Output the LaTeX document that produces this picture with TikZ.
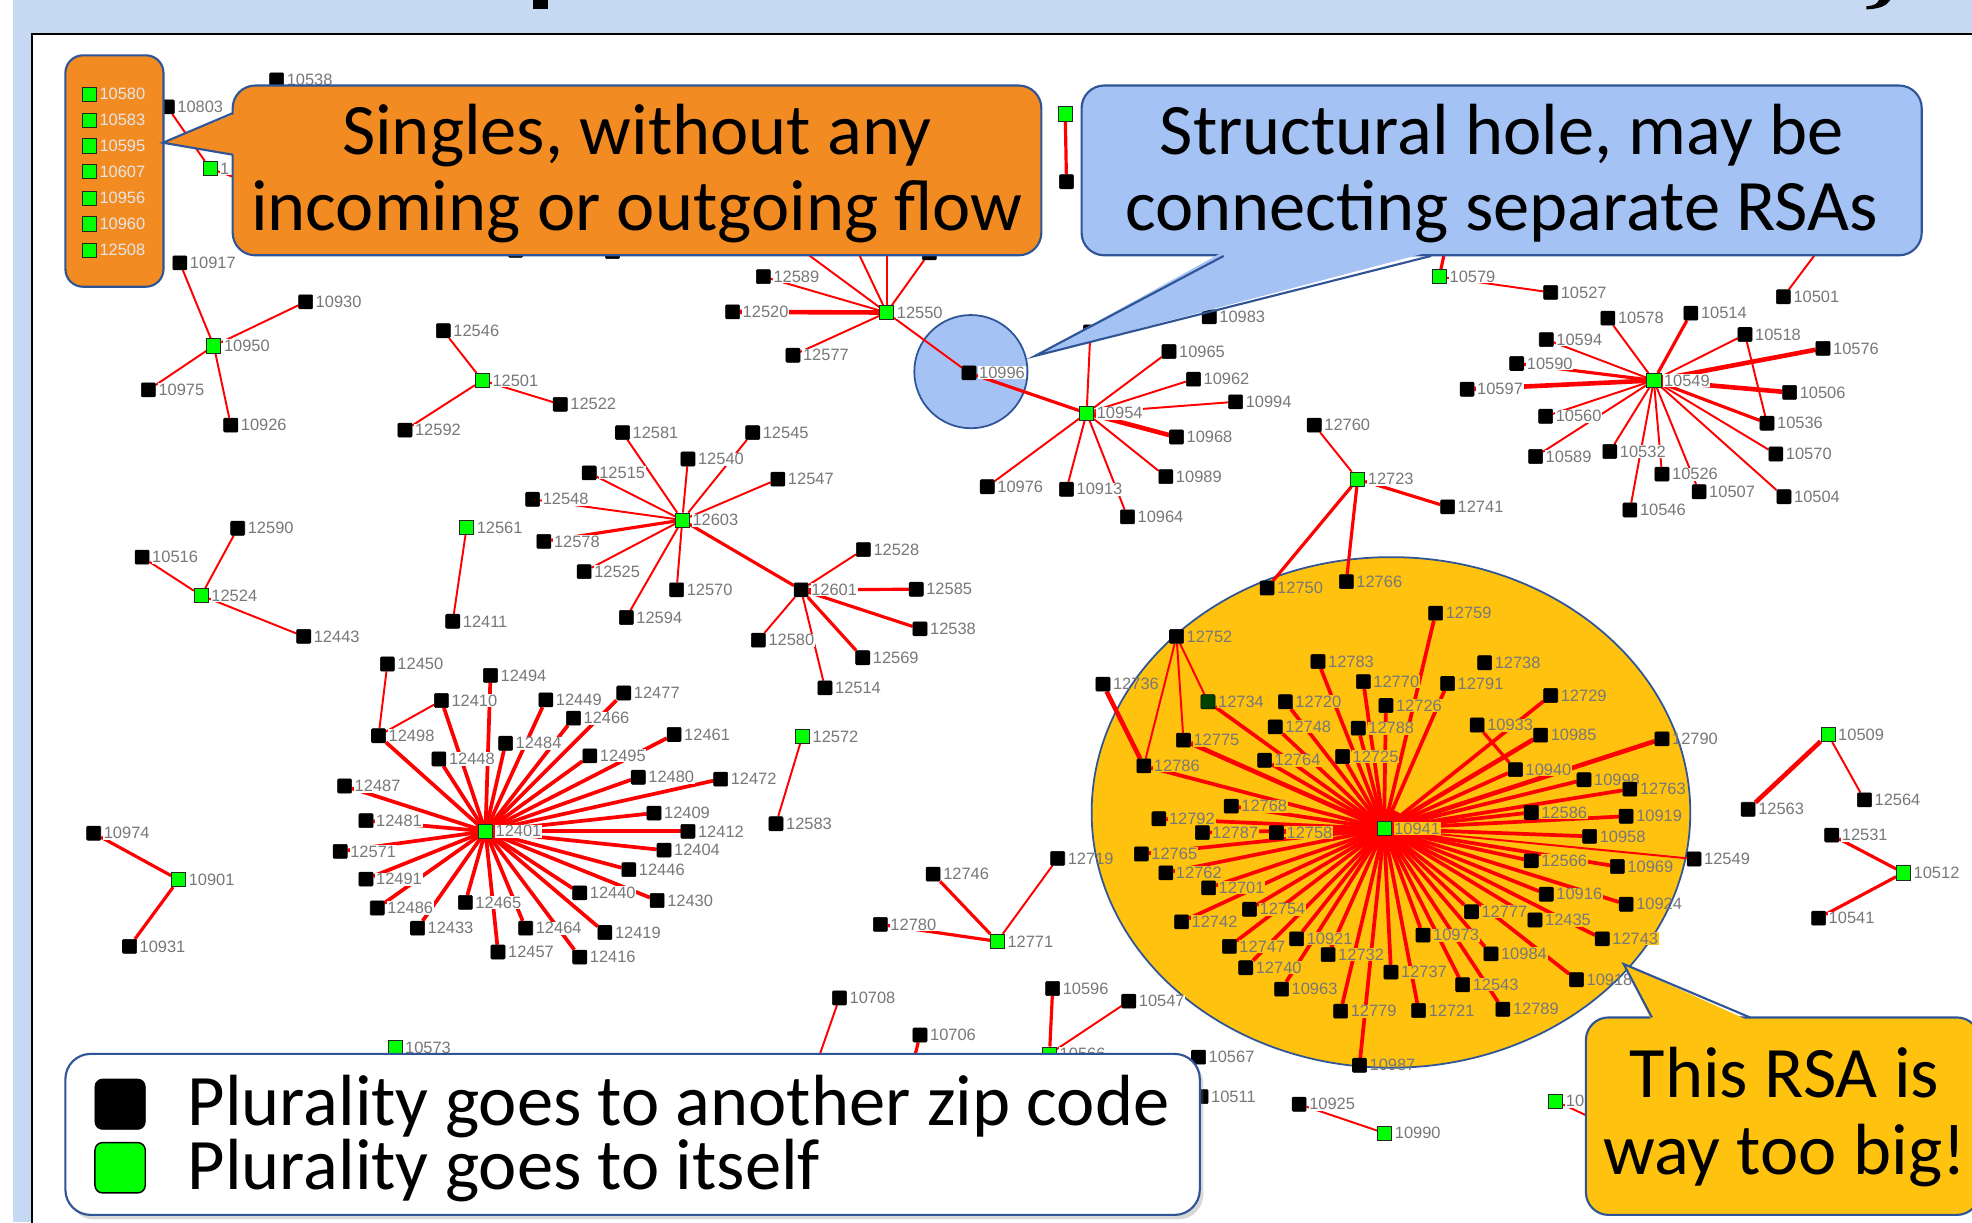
\documentclass[tikz,border=0pt]{standalone}
\usepackage{fontspec}
\setmainfont{Carlito}
\newfontfamily\calfont{Carlito}
\newfontfamily\lblfont{Liberation Sans}
\usetikzlibrary{shadows}
\definecolor{bgblue}{RGB}{198,217,242}
\definecolor{corange}{RGB}{243,139,35}
\definecolor{cblue}{RGB}{164,194,243}
\definecolor{cyellow}{RGB}{255,194,14}
\definecolor{bord}{RGB}{47,85,151}
\definecolor{ngreen}{RGB}{0,255,0}
\definecolor{dkgreen}{RGB}{0,64,0}
\definecolor{lblgray}{RGB}{120,120,120}
\definecolor{edred}{RGB}{255,0,0}
\pgfdeclarelayer{back}
\pgfdeclarelayer{edges}
\pgfsetlayers{back,edges,main}
\tikzset{
 nb/.style={draw=black, fill=black, rounded corners=0.6pt, minimum size=2.8mm, inner sep=0pt, line width=0.3pt},
 ng/.style={draw=black!85, fill=ngreen, minimum size=2.8mm, inner sep=0pt, line width=0.4pt},
 lbl/.style={font=\lblfont\fontsize{9.3}{9.3}\selectfont, text=lblgray, fill=white, inner sep=0.4pt},
 lbly/.style={lbl, fill=cyellow},
 lbln/.style={lbl, fill=none},
 lbls/.style={lbl, fill=none, text=white!90!black},
 ed/.style={draw=edred, line width=1.1pt},
 edk/.style={draw=edred, line width=1.8pt},
 edh/.style={draw=edred, line width=2.1pt},
 edt/.style={draw=edred, line width=2.6pt},
 bigtxt/.style={font=\calfont\fontsize{41}{43}\selectfont, inner sep=0pt, anchor=base},
 callborder/.style={draw=bord, line width=1.2pt},
}
\newcommand\NdB[3][lbl]{\node[nb,label={[#1]east:#2}] (n#2) at (#3) {};}
\newcommand\NdG[3][lbl]{\node[ng,label={[#1]east:#2}] (n#2) at (#3) {};}
\begin{document}
\begin{tikzpicture}[x=0.25mm,y=-0.25mm,label distance=0.35mm]
\useasboundingbox (0,0) rectangle (1568,972);
\begin{pgfonlayer}{back}
\fill[white] (0,0) rectangle (1568,972);
\fill[bgblue] (10,0) rectangle (1568,972);
\fill[white] (25.5,27) rectangle (1568,972);
\draw[line width=1.3pt] (25.5,980) -- (25.5,27) -- (1580,27);
\fill[black] (424,0) rectangle (436,7);
\fill[black] (1494,0) -- (1503,0) .. controls (1500,5) and (1494,7) .. (1484,7.5) -- (1484,5) .. controls (1490,4.5) and (1493,3) .. (1494,0) -- cycle;
\draw[fill=cyellow, draw=bord, line width=1pt] (1106,646) ellipse [x radius=238, y radius=203];
\draw[fill=cblue, draw=bord, line width=1pt] (772,295.5) circle [radius=45];
\end{pgfonlayer}

% ---------- nodes ----------
\NdB{10538}{220,63.5}
\NdB{10803}{133,85}
\node[ng,label={[lbl]east:1}] (g1) at (167,134) {};
\node[nb] (h0) at (267,170) {};
\NdB{10917}{143,209}
\NdB{10930}{243,240}
\NdG{10950}{170,275}
\NdB{10975}{118,310}
\NdB{10926}{183.5,338}
\NdB{12546}{352.5,263}
\NdG{12501}{383.5,302.5}
\NdB{12522}{445.5,321.5}
\NdB{12592}{322,342}
\node[nb] (h12) at (410,199) {};
\node[nb] (h13) at (487,200) {};

\NdG{12550}{705,248.5}
\NdB{12589}{607,220}
\NdB{12520}{582.5,248}
\NdB{12577}{630.5,282.5}
\NdB{10996}{770.5,296.5}
\node[nb] (h1) at (585,160) {};
\node[nb] (h2) at (663,160) {};
\node[nb] (h3) at (705,150) {};
\node[nb] (h4) at (739,201) {};
\node[ng] (gt1) at (847,90.5) {};
\node[nb] (bt1) at (848,144.5) {};

\NdG{10954}{864,328.5}
\NdB{10983}{961.5,252}
\NdB{10965}{929.5,279.5}
\NdB{10962}{949,301.5}
\NdB{10994}{982.5,319.5}
\NdB{10968}{935.5,347.5}
\NdB{10989}{927,379}
\NdB{10964}{896.5,411}
\NdB{10913}{848,389}
\NdB{10976}{785,387}
\node[nb] (h5) at (867,264) {};

\NdB{12760}{1045,338}
\NdG{12723}{1079.5,381}
\NdB{12741}{1151,403}

\NdG{10579}{1144.5,220}
\NdB{10527}{1233,232.5}
\NdB{10501}{1418,236}
\NdB{10578}{1278.5,253}
\NdB{10514}{1344.5,249}
\NdB{10594}{1229.5,270}
\NdB{10518}{1387.5,266}
\NdB{10576}{1449.5,277}
\NdB{10590}{1206,289}
\NdG{10549}{1315,302.5}
\NdB{10597}{1166.5,309.5}
\NdB{10506}{1423,312}
\NdB{10560}{1229,331}
\NdB{10536}{1405,336.5}
\NdB{10532}{1280,359}
\NdB{10589}{1221,363}
\NdB{10570}{1412,361}
\NdB{10526}{1321.5,377}
\NdB{10507}{1351,391}
\NdB{10504}{1418.5,395}
\NdB{10546}{1296,405.5}
\node[nb] (h6) at (1155,170) {};
\node[nb] (h7) at (1460,180) {};

\NdB{12581}{495,344}
\NdB{12545}{598.5,344}
\NdB{12540}{547,365}
\NdB{12515}{468.5,376}
\NdB{12547}{618.5,381}
\NdB{12548}{423.5,397}
\NdG{12603}{542.5,413.5}
\NdB{12578}{432.5,430.5}
\NdB{12525}{464.5,454.5}
\NdB{12570}{538,469}
\NdB{12594}{498,491}
\NdB{12601}{637,469}
\NdB{12528}{686.5,437}
\NdB{12585}{728.5,468.5}
\NdB{12538}{731.5,500}
\NdB{12580}{603,509}
\NdB{12569}{686,523}
\NdB{12514}{656,547}

\NdB{12590}{189,420}
\NdB{10516}{113,443}
\NdG{12524}{160,473.5}
\NdB{12443}{241.5,506}
\NdG{12561}{371,419.5}
\NdB{12411}{360,494}

\NdB{12450}{308,528}
\NdB{12494}{390,537}
\NdB{12410}{351,557}
\NdB{12449}{434,556.5}
\NdB{12477}{496,551}
\NdB{12466}{456,571}
\NdB{12498}{301,585}
\NdB{12484}{402,591}
\NdB{12461}{536,584}
\NdB{12448}{349,603.5}
\NdB{12495}{469,601}
\NdB{12487}{274,625}
\NdB{12480}{507.5,618}
\NdB{12472}{573,619.5}
\NdB{12481}{291,652.5}
\NdB{12409}{520,646.5}
\NdG{12401}{386,661}
\NdB{12412}{547,661}
\NdB{12571}{270.5,677}
\NdB{12404}{528,676}
\NdB{12491}{291,699}
\NdB{12446}{500,691.5}
\NdB{12486}{300,722}
\NdB{12465}{370,717.5}
\NdB{12440}{461,710}
\NdB{12430}{522.5,716}
\NdB{12433}{332,738}
\NdB{12464}{418,738}
\NdB{12419}{481,741.5}
\NdB{12457}{396,757}
\NdB{12416}{461,761}

\NdG{12572}{638,585.5}
\NdB{12583}{617,655}
\NdB{10974}{74.5,662.5}
\NdG{10901}{142,699.5}
\NdB{10931}{103,752.5}
\NdB{12746}{742,695}
\NdB[lbln]{12719}{841,682.5}
\NdB{12780}{700,735}
\NdG{12771}{793,748.5}

\NdB{10708}{667.5,793.5}
\NdB{10706}{731.5,823}
\NdB{10596}{837,786}
\NdB{10547}{897.5,796}
\NdG{10566}{834.5,838}
\NdG{10573}{314,833}
\NdB{10567}{953,840.5}
\NdB{10511}{955,872}
\NdB{10925}{1033,878}
\NdG{10990}{1101,901}
\node[ng,label={[lbl]east:10}] (gy) at (1237,875.5) {};
\node[nb] (h8) at (645,858) {};
\node[nb] (h9) at (722,862) {};
\node[nb] (h10) at (925,872) {};
\node[nb] (h11) at (1300,905) {};

\NdG{10509}{1453.5,584}
\NdB{12563}{1390,643.5}
\NdB{12564}{1482.5,636}
\NdB{12531}{1456.5,664}
\NdG{10512}{1513.5,694}
\NdB{10541}{1446,730}
\NdB{12549}{1347,683}

\NdB[lbly]{12750}{1007.5,467.5}
\NdB[lbly]{12766}{1070.5,462.5}
\NdB[lbly]{12759}{1141.5,487.5}
\NdB[lbly]{12752}{935.5,506}
\NdB[lbly]{12783}{1048,526}
\NdB[lbly]{12738}{1180.5,527}
\NdB[lbly]{12770}{1084,542}
\NdB[lbly]{12791}{1151,543.5}
\NdB[lbln]{12736}{877,544}
\node[nb, fill=dkgreen, label={[lbly]east:12734}] (n12734) at (960.5,558) {};
\NdB[lbly]{12720}{1022,558}
\NdB[lbly]{12726}{1102,561}
\NdB[lbly]{12729}{1233,553}
\NdB[lbly]{12748}{1014,578}
\NdB[lbly]{12788}{1080,579}
\NdB[lbly]{10933}{1174.5,576.5}
\NdB[lbly]{10985}{1225,584.5}
\NdB[lbln]{12790}{1321.5,587.5}
\NdB[lbly]{12775}{941,588.5}
\NdB[lbly]{12764}{1005.5,604.5}
\NdB[lbly]{12725}{1067.5,601.5}
\NdB[lbly]{12786}{909.5,609}
\NdB[lbly]{10940}{1205,612}
\NdB[lbly]{10998}{1259.5,620}
\NdB[lbly]{12763}{1296,627.5}
\NdB[lbly]{12768}{979,641}
\NdB[lbly]{12586}{1217.5,646}
\NdB[lbly]{10919}{1293,649}
\NdB[lbly]{12792}{921.5,651}
\NdB[lbly]{12787}{956,662}
\NdB[lbly]{12758}{1015,662}
\NdG[lbly]{10941}{1100.5,659}
\NdB[lbly]{10958}{1264,665}
\NdB[lbly]{12765}{907.5,679}
\NdB[lbly]{12566}{1217.5,684.5}
\NdB[lbly]{10969}{1286,689}
\NdB[lbly]{12762}{927,694}
\NdB[lbly]{12701}{961,706}
\NdB[lbly]{10916}{1229.5,711}
\NdB[lbln]{10924}{1293,719}
\NdB[lbly]{12754}{993.5,723}
\NdB[lbly]{12777}{1170,725}
\NdB[lbly]{12435}{1220.5,731.5}
\NdB[lbly]{12742}{939.5,733}
\NdB[lbly]{10973}{1131.5,743.5}
\NdB[lbly]{10921}{1031,746.5}
\NdB[lbly]{12732}{1056,759}
\NdB[lbly]{12743}{1274,746.5}
\NdB[lbly]{12747}{977.5,752.5}
\NdB[lbly]{10984}{1185.5,758.5}
\NdB[lbly]{12740}{990.5,769.5}
\NdB[lbly]{12737}{1106,773}
\NdB[lbly]{12543}{1163,783}
\NdB[lbln]{10918}{1253.5,779}
\NdB[lbly]{10963}{1019,786.5}
\NdB[lbly]{12779}{1066,804}
\NdB[lbly]{12721}{1128,803.5}
\NdB[lbly]{12789}{1195,802.5}
\NdB[lbln]{10987}{1081,847}

% ---------- edges ----------
\begin{pgfonlayer}{edges}
\draw[ed] (n10803) -- (g1);
\draw[ed] (g1) -- (h0);
\foreach \a in {10917,10930,10975,10926} \draw[ed] (n10950) -- (n\a);
\foreach \a in {12546,12522,12592} \draw[ed] (n12501) -- (n\a);
\draw[edt] (n12550) -- (n12520);
\foreach \a in {12589,12577,10996} \draw[ed] (n12550) -- (n\a);
\foreach \a in {h1,h2,h3,h4} \draw[ed] (n12550) -- (\a);
\draw[edk] (gt1) -- (bt1);
\draw[edk] (n10954) -- (n10996);
\draw[edt] (n10954) -- (n10968);
\foreach \a in {10965,10962,10994,10989,10964,10913,10976} \draw[ed] (n10954) -- (n\a);
\draw[ed] (n10954) -- (h5);
\draw[ed] (n12723) -- (n12760);
\draw[edk] (n12723) -- (n12741);
\draw[edk] (n12723) -- (n12750);
\draw[edk] (n12723) -- (n12766);
\foreach \a in {10576,10597,10506} \draw[edt] (n10549) -- (n\a);
\foreach \a in {10514,10590,10536} \draw[edk] (n10549) -- (n\a);
\foreach \a in {10578,10594,10518,10560,10532,10589,10570,10526,10507,10504,10546} \draw[ed] (n10549) -- (n\a);
\draw[ed] (n10518) -- (n10536);
\draw[ed] (n10579) -- (n10527);
\draw[edk] (n10579) -- (h6);
\draw[ed] (n10501) -- (h7);
\foreach \a in {12581,12545,12540,12515,12547,12548,12525,12570,12594} \draw[ed] (n12603) -- (n\a);
\draw[edk] (n12603) -- (n12578);
\draw[edk] (n12603) -- (n12601);
\foreach \a in {12585,12538,12569} \draw[edk] (n12601) -- (n\a);
\foreach \a in {12528,12580,12514} \draw[ed] (n12601) -- (n\a);
\foreach \a in {12590,10516,12443} \draw[ed] (n12524) -- (n\a);
\draw[ed] (n12561) -- (n12411);
\foreach \a in {12498,12494,12410,12449,12477,12466,12484,12461,12448,12495,12487,12480,12472,12481,12409,12412,12571,12404,12491,12446,12486,12465,12440,12430,12433,12464,12419,12457,12416} \draw[edh] (n12401) -- (n\a);
\draw[ed] (n12450) -- (n12498);
\draw[ed] (n12410) -- (n12498);
\draw[ed] (n12572) -- (n12583);
\draw[edk] (n10901) -- (n10974);
\draw[edk] (n10901) -- (n10931);
\draw[edk] (n12771) -- (n12746);
\draw[ed] (n12771) -- (n12719);
\draw[edk] (n12771) -- (n12780);
\draw[edk] (n10566) -- (n10596);
\draw[ed] (n10566) -- (n10547);
\draw[ed] (n10708) -- (h8);
\draw[edk] (n10706) -- (h9);
\draw[ed] (n10567) -- (h10);
\draw[ed] (n10925) -- (n10990);
\draw[ed] (gy) -- (h11);
\draw[edt] (n10509) -- (n12563);
\draw[ed] (n10509) -- (n12564);
\draw[edk] (n10512) -- (n12531);
\draw[edk] (n10512) -- (n10541);
\draw[ed] (n10941) -- (n12549);
\foreach \a in {12759,12783,12770,12726,12791,12729,12720,12748,12788,12764,12725,12786,12734,10940,10998,12763,12768,12586,10919,12792,12787,12758,10958,12765,12566,10969,12762,12701,10916,10924,12754,12777,12435,12742,10973,10921,12732,12743,12747,10984,12740,12737,12543,10918,10963,12779,12721,12789,10987} \draw[edh] (n10941) -- (n\a);
\foreach \a in {10985,12790,12775} \draw[edt] (n10941) -- (n\a);
\draw[ed] (n12752) -- (n12786);
\draw[ed] (n12752) -- (n12775);
\draw[ed] (n12752) -- (n12734);
\draw[edt] (n12736) -- (n12786);
\draw[edk] (n10933) -- (n10940);
\fill[edred] (n10941) ellipse [x radius=20, y radius=16];
\fill[edred] (n12401) circle [radius=9];
\end{pgfonlayer}

% ---------- singles box ----------
\draw[fill=corange, draw=bord, line width=1.2pt, rounded corners=3.5mm] (52,44) rectangle (130,228);
\NdG[lbls]{10580}{71,74.7}
\NdG[lbls]{10583}{71,95.4}
\NdG[lbls]{10595}{71,116}
\NdG[lbls]{10607}{71,136.6}
\NdG[lbls]{10956}{71,157.5}
\NdG[lbls]{10960}{71,178}
\NdG[lbls]{12508}{71,198.8}

% ---------- callout 1 ----------
\draw[fill=corange, callborder, rounded corners=4.5mm] (185,68) rectangle (828,203);
\fill[corange] (188,90) -- (129.5,113.5) -- (188,123) -- cycle;
\draw[callborder, line join=miter] (185,90) -- (129.5,113.5) -- (185,123);
\node[bigtxt] (t1a) at (506.5,123) {Singles, without any};
\node[bigtxt] (t1b) at (506.5,183) {incoming or outgoing flow};

% ---------- callout 2 ----------
\draw[fill=cblue, callborder, rounded corners=4.5mm] (860,68) rectangle (1528,203);
\fill[cblue] (973,200) -- (823,283) -- (1138,200) -- cycle;
\draw[callborder, line join=miter] (973,203.5) -- (823,283) -- (1138,203.5);
\node[bigtxt] (t2a) at (1194,122.5) {Structural hole, may be};
\node[bigtxt] (t2b) at (1194,183) {connecting separate RSAs};

% ---------- callout 3 ----------
\draw[fill=cyellow, callborder, rounded corners=4.5mm] (1261,809) rectangle (1574,966);
\fill[cyellow] (1313.5,812) -- (1291,766.5) -- (1391.5,812) -- cycle;
\draw[callborder, line join=miter] (1313.5,809) -- (1291,766.5) -- (1391.5,809);
\node[bigtxt] (t3a) at (1419,873) {This RSA is};
\node[bigtxt] (t3b) at (1419,934) {way too big!};

% ---------- legend ----------
\draw[fill=white, draw=bord, line width=1.2pt, rounded corners=5mm,
      drop shadow={opacity=0.3, shadow xshift=0.7mm, shadow yshift=-0.9mm}] (52,838) rectangle (954,966);
\node[draw=black, fill=black, rounded corners=1.5mm, minimum size=10mm, inner sep=0pt] (lgb) at (95.5,878) {};
\node[draw=black, fill=ngreen, line width=0.8pt, rounded corners=1.5mm, minimum size=10mm, inner sep=0pt] (lgg) at (95.5,928.5) {};
\node[font=\calfont\fontsize{41}{36.3}\selectfont, inner sep=0pt, align=left, anchor=base west] (lt) at (149,945.6) {Plurality goes to another zip code\\Plurality goes to itself};
\end{tikzpicture}
\end{document}
